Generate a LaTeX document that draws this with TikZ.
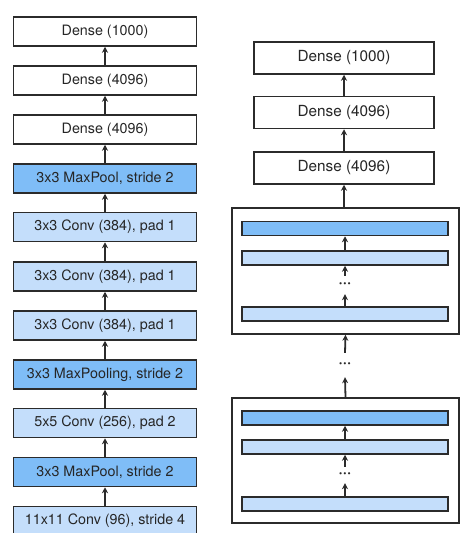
\documentclass[tikz,border=0pt]{standalone}
\usepackage{fontspec}
\setmainfont{TeX Gyre Heros}
\usetikzlibrary{arrows.meta}
\definecolor{darkblue}{HTML}{7FBDF7}
\definecolor{lightblue}{HTML}{C4DEFB}
\definecolor{edge}{HTML}{2B2B2B}
\tikzset{
  lbox/.style={draw=edge, line width=1.5pt, minimum width=183pt, minimum height=29pt, inner sep=0pt, font=\fontsize{14.3}{16}\selectfont, text=black!85},
  rbox/.style={draw=edge, line width=1.5pt, minimum width=180pt, minimum height=32pt, inner sep=0pt, font=\fontsize{15.3}{18}\selectfont, text=black!85},
  bar/.style={draw=edge, line width=1.5pt, minimum width=206pt, minimum height=14pt, inner sep=0pt},
  frame/.style={draw=edge, line width=1.5pt, minimum width=227pt, inner sep=0pt},
  conv/.style={fill=lightblue},
  pool/.style={fill=darkblue},
  dense/.style={fill=white},
  dotsn/.style={inner sep=0pt, font=\fontsize{15}{15}\selectfont\bfseries, text=edge},
  arr/.style={draw=edge, line width=1.8pt, -{Stealth[length=6pt,width=6pt]}}
}
\begin{document}
\begin{tikzpicture}[x=1pt,y=-1pt]
\useasboundingbox (0,0) rectangle (463,533);
\clip (0,0) rectangle (463,533);
\fill[white] (0,0) rectangle (463,533);
% left column
\node[lbox,dense] (l1) at (105,31.5) {Dense (1000)};
\node[lbox,dense] (l2) at (105,80.5) {Dense (4096)};
\node[lbox,dense] (l3) at (105,129.5) {Dense (4096)};
\node[lbox,pool] (l4) at (105,178.5) {3x3 MaxPool, stride 2};
\node[lbox,conv] (l5) at (105,227) {3x3 Conv (384), pad 1};
\node[lbox,conv] (l6) at (105,276.5) {3x3 Conv (384), pad 1};
\node[lbox,conv] (l7) at (105,325.5) {3x3 Conv (384), pad 1};
\node[lbox,pool] (l8) at (105,374.5) {3x3 MaxPooling, stride 2};
\node[lbox,conv] (l9) at (105,423) {5x5 Conv (256), pad 2};
\node[lbox,pool] (l10) at (105,472) {3x3 MaxPool, stride 2};
\node[lbox,conv] (l11) at (105,521) {11x11 Conv (96), stride 4};
\foreach \a/\b in {l11/l10,l10/l9,l9/l8,l8/l7,l7/l6,l6/l5,l5/l4,l4/l3,l3/l2,l2/l1}
  \draw[arr] (\a.north) -- (\b.south);
% right column
\node[rbox,dense] (r1) at (344,58) {Dense (1000)};
\node[rbox,dense] (r2) at (344,112.5) {Dense (4096)};
\node[rbox,dense] (r3) at (344,168) {Dense (4096)};
\node[frame,minimum height=126pt] (b1) at (345.5,271) {};
\node[bar,pool] (b1a) at (345,228.5) {};
\node[bar,conv] (b1b) at (345,258) {};
\node[dotsn,minimum height=18pt] (b1d) at (345,285) {···};
\node[bar,conv] (b1c) at (345,314) {};
\node[dotsn,minimum height=24pt] (md) at (345,365) {···};
\node[frame,minimum height=125pt] (b2) at (345.5,460.5) {};
\node[bar,pool] (b2a) at (345,418) {};
\node[bar,conv] (b2b) at (345,447) {};
\node[dotsn,minimum height=16pt] (b2d) at (345,475) {···};
\node[bar,conv] (b2c) at (345,504) {};
\draw[arr] (r2.north) -- (r1.south);
\draw[arr] (r3.north) -- (r2.south);
\draw[arr] (b1.north -| r3.south) -- (r3.south);
\draw[arr] (b1b.north) -- (b1a.south);
\draw[arr] (b1d.north) -- (b1b.south);
\draw[arr] (b1c.north) -- (b1d.south);
\draw[arr] (md.north) -- (b1.south);
\draw[arr] (b2.north) -- (md.south);
\draw[arr] (b2b.north) -- (b2a.south);
\draw[arr] (b2d.north) -- (b2b.south);
\draw[arr] (b2c.north) -- (b2d.south);
\end{tikzpicture}
\end{document}
